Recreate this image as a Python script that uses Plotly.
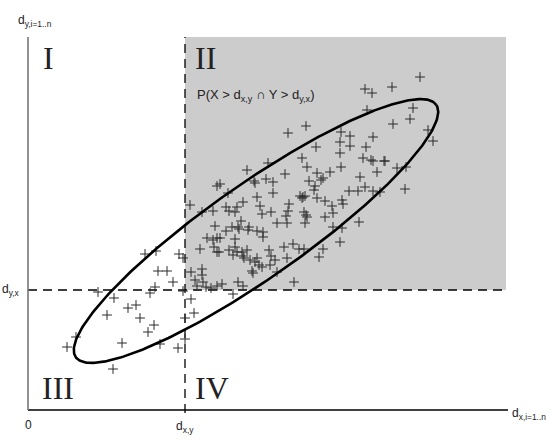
import numpy as np
import plotly.graph_objects as go

# Sample points (x = d_x, y = d_y), in chart units (origin at the axes corner)
px_pts = [
    (145,254),(156,251),(179,254),(183,258),(158,271),(167,271),(173,282),(191,272),(195,280),(197,286),
    (155,287),(150,293),(98,292),(114,298),(128,308),(136,305),(107,315),(140,318),(154,325),(148,332),
    (191,299),(194,313),(185,318),(76,337),(67,347),(122,343),(160,344),(178,348),(185,339),(113,369),
    (268,163),(247,170),(285,174),(302,158),(307,167),(217,186),(220,184),(254,181),(255,183),(266,179),
    (273,182),(309,181),(228,193),(257,197),(273,193),(300,196),(303,197),(305,196),(243,202),(190,205),
    (202,212),(213,211),(226,207),(229,211),(237,207),(235,212),(260,206),(262,214),(271,212),(289,204),
    (288,211),(304,212),(286,216),(307,217),(241,221),(215,226),(277,223),(287,223),(226,231),(232,227),
    (238,227),(239,229),(249,227),(248,230),(257,231),(263,232),(263,237),(207,238),(213,240),(217,238),
    (220,238),(235,239),(200,249),(214,247),(217,252),(219,252),(229,250),(235,247),(237,252),(242,252),
    (247,250),(233,255),(243,256),(244,258),(269,250),(271,256),(275,260),(284,247),(293,244),(299,249),
    (304,249),(287,258),(250,260),(255,262),(257,258),(259,265),(262,267),(270,265),(277,272),(252,271),
    (253,273),(202,269),(202,275),(203,282),(206,287),(211,288),(217,286),(222,284),(238,282),(243,286),
    (294,282),(183,291),(233,294),
    (365,89),(372,93),(367,110),(306,126),(288,133),(341,132),(350,136),(373,137),(316,147),(340,142),
    (340,153),(350,146),(366,147),(363,158),(371,160),(373,161),(384,161),(385,161),(317,173),(330,172),
    (341,167),(360,177),(377,172),(321,180),(323,178),(420,77),(392,87),(413,108),(410,119),(393,124),
    (428,130),(433,141),(397,168),(406,167),(315,186),(314,190),(365,187),(405,189),(349,191),(358,191),
    (373,191),(380,192),(302,198),(317,198),(325,201),(332,206),(342,200),(343,204),(306,215),(325,217),
    (333,213),(305,223),(359,222),(333,227),(342,228),(340,242),(323,249),(319,257),
]
x_vals = [p[0] - 28 for p in px_pts]
y_vals = [410 - p[1] for p in px_pts]

d_xy = 157   # threshold on x
d_yx = 120   # threshold on y
x_max = 480
y_max = 373

# Ellipse parameters (confidence region)
ell_cx, ell_cy = 228, 179
ell_a, ell_b = 220, 47
ell_angle = np.deg2rad(35)

t = np.linspace(0, 2 * np.pi, 400)
ex = ell_cx + ell_a * np.cos(t) * np.cos(ell_angle) - ell_b * np.sin(t) * np.sin(ell_angle)
ey = ell_cy + ell_a * np.cos(t) * np.sin(ell_angle) + ell_b * np.sin(t) * np.cos(ell_angle)

fig = go.Figure()
fig.add_trace(go.Scatter(
    x=x_vals, y=y_vals, mode="markers",
    marker=dict(symbol="cross-thin", size=7, line=dict(color="#2a2a2a", width=1)),
    hoverinfo="skip", showlegend=False))
fig.add_trace(go.Scatter(
    x=ex, y=ey, mode="lines", line=dict(color="black", width=2.6),
    hoverinfo="skip", showlegend=False))

shapes = [
    dict(type="rect", x0=d_xy, x1=x_max - 2, y0=d_yx, y1=y_max, fillcolor="#cccccc",
         line=dict(width=0), layer="below"),
    dict(type="line", x0=d_xy, x1=d_xy, y0=-3, y1=y_max, line=dict(color="black", width=1.3, dash="9px,6px"),
         layer="below"),
    dict(type="line", x0=0, x1=x_max - 2, y0=d_yx, y1=d_yx, line=dict(color="black", width=1.3, dash="9px,6px"),
         layer="below"),
    dict(type="line", x0=0, x1=x_max, y0=0, y1=0, line=dict(color="black", width=1.5), layer="below"),
    dict(type="line", x0=0, x1=0, y0=0, y1=y_max, line=dict(color="#777", width=1.6), layer="below"),
]

roman = dict(family="Liberation Serif, Times New Roman, serif", size=32, color="#222")
sans = dict(family="Liberation Sans, Arial, sans-serif", size=12, color="#222")

ann = [
    dict(x=20, y=352, text="I", font=roman),
    dict(x=177, y=352, text="II", font=roman),
    dict(x=30, y=22, text="III", font=roman),
    dict(x=184, y=22, text="IV", font=roman),
    dict(x=167, y=315, text="P(X > d<sub>x,y</sub> ∩ Y > d<sub>y,x</sub>)", font=dict(sans, size=13),
         xanchor="left"),
    dict(x=-12, y=389, text="d<sub>y,i=1..n</sub>", font=sans, xanchor="left"),
    dict(x=482, y=-4, text="d<sub>x,i=1..n</sub>", font=sans, xanchor="left"),
    dict(x=0, y=-15, text="0", font=sans),
    dict(x=d_xy, y=-17, text="d<sub>x,y</sub>", font=sans),
    dict(x=-28, y=d_yx, text="d<sub>y,x</sub>", font=sans, xanchor="left"),
]
for a in ann:
    a.setdefault("xanchor", "center")
    a.update(xref="x", yref="y", showarrow=False, yanchor="middle")

fig.update_layout(
    width=556, height=444, margin=dict(l=0, r=0, t=0, b=0),
    paper_bgcolor="white", plot_bgcolor="white",
    xaxis=dict(range=[-28, 528], visible=False, fixedrange=True),
    yaxis=dict(range=[-34, 410], visible=False, fixedrange=True),
    shapes=shapes, annotations=ann,
)
fig.write_html("out.html")
